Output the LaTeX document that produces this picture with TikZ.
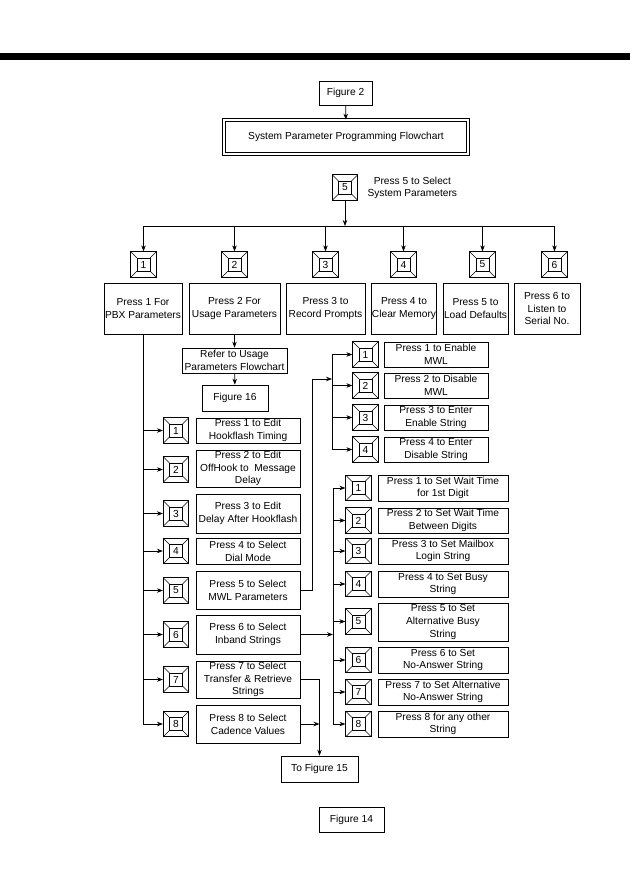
\documentclass[tikz,border=0pt]{standalone}
\usepackage{fontspec}
\setmainfont{Liberation Sans}
\usetikzlibrary{arrows.meta,calc}
\newcommand{\chartfont}{\fontsize{10.2}{12.7}\selectfont}

\begin{document}
\begin{tikzpicture}[x=1pt,y=-1pt,
    every node/.style={font=\chartfont},
    txtbox/.style={draw,line width=0.7pt,align=center,inner sep=0.3pt},
    keybox/.style={draw,line width=0.7pt,minimum size=25.5pt,inner sep=0pt,
      path picture={
        \coordinate (kc) at (path picture bounding box.center);
        \draw[line width=0.6pt] ($(kc)+(-6.5pt,-6.5pt)$) rectangle ($(kc)+(6.5pt,6.5pt)$);
        \draw[line width=0.5pt]
          (path picture bounding box.north west) -- ($(kc)+(-6.5pt,6.5pt)$)
          (path picture bounding box.north east) -- ($(kc)+(6.5pt,6.5pt)$)
          (path picture bounding box.south west) -- ($(kc)+(-6.5pt,-6.5pt)$)
          (path picture bounding box.south east) -- ($(kc)+(6.5pt,-6.5pt)$);}},
    arrow/.style={-{Stealth[length=6pt,width=4.5pt]},line width=0.7pt},
    wire/.style={line width=0.7pt}
  ]
    \useasboundingbox (0,0) rectangle (630,893);
    \fill (0,53) rectangle (630,60);

    % heading
    \node[txtbox,minimum width=53pt,minimum height=24pt] (fig2) at (345.5,93) {Figure 2};
    \node[draw,line width=0.7pt,double,double distance=2.2pt,minimum width=244pt,
      minimum height=34pt] (title) at (346,137) {System Parameter Programming Flowchart};
    \node[keybox] (sel5) at (345,187.5) {5};
    \node[anchor=west,align=center] (seltxt) at (364,188) {Press 5 to Select\\System Parameters};
    \coordinate (bus) at (345,226);

    % first level
    \foreach \i/\x in {1/143.5,2/234.5,3/325.5,4/403.5,5/482.5,6/554.5}
      \node[keybox] (rk\i) at (\x,264.5) {\i};
    \node[txtbox,minimum width=78pt,minimum height=51pt] (rb1) at (143,308.5) {Press 1 For\\PBX Parameters};
    \node[txtbox,minimum width=91pt,minimum height=51pt] (rb2) at (234.5,308.5) {Press 2 For\\Usage Parameters};
    \node[txtbox,minimum width=79pt,minimum height=51pt] (rb3) at (325.5,308.5) {Press 3 to\\Record Prompts};
    \node[txtbox,minimum width=64pt,minimum height=51pt] (rb4) at (404,308.5) {Press 4 to\\Clear Memory};
    \node[txtbox,minimum width=65pt,minimum height=51pt] (rb5) at (475.5,308.5) {Press 5 to\\Load Defaults};
    \node[txtbox,minimum width=66pt,minimum height=51pt] (rb6) at (547,308.5) {Press 6 to\\Listen to\\Serial No.};

    \node[txtbox,minimum width=105pt,minimum height=25pt] (refer) at (234.5,360.5) {Refer to Usage\\Parameters Flowchart};
    \node[txtbox,minimum width=66pt,minimum height=26pt] (fig16) at (235,398) {Figure 16};

    % PBX parameters
    \foreach \i/\y in {1/430.5,2/469.5,3/513.5,4/551,5/590.5,6/634.5,7/679.5,8/724}
      \node[keybox] (lk\i) at (176,\y) {\i};
    \node[txtbox,minimum width=104pt,minimum height=25pt] (lt1) at (248,430.5) {Press 1 to Edit\\Hookflash Timing};
    \node[txtbox,minimum width=104pt,minimum height=37pt] (lt2) at (248,468.5) {Press 2 to Edit\\OffHook to\ \ Message\\Delay};
    \node[txtbox,minimum width=104pt,minimum height=39pt] (lt3) at (248,513.5) {Press 3 to Edit\\Delay After Hookflash};
    \node[txtbox,minimum width=104pt,minimum height=26pt] (lt4) at (248,551) {Press 4 to Select\\Dial Mode};
    \node[txtbox,minimum width=104pt,minimum height=38pt] (lt5) at (248,590) {Press 5 to Select\\MWL Parameters};
    \node[txtbox,minimum width=104pt,minimum height=39pt] (lt6) at (248,634.5) {Press 6 to Select\\Inband Strings};
    \node[txtbox,minimum width=104pt,minimum height=37pt] (lt7) at (248,679.5) {Press 7 to Select\\Transfer \& Retrieve\\Strings};
    \node[txtbox,minimum width=104pt,minimum height=38pt] (lt8) at (248,724) {Press 8 to Select\\Cadence Values};
    \node[txtbox,minimum width=77pt,minimum height=26pt] (fig15) at (319.5,769) {To Figure 15};

    % MWL parameters
    \coordinate (mwlbus) at (332,379);
    \foreach \i/\y in {1/354.5,2/385.5,3/417.5,4/449.5}
      \node[keybox] (mk\i) at (365.5,\y) {\i};
    \node[txtbox,minimum width=104pt,minimum height=25pt] (mt1) at (436,354.5) {Press 1 to Enable\\MWL};
    \node[txtbox,minimum width=104pt,minimum height=25pt] (mt2) at (436,385.5) {Press 2 to Disable\\MWL};
    \node[txtbox,minimum width=104pt,minimum height=25pt] (mt3) at (436,417.5) {Press 3 to Enter\\Enable String};
    \node[txtbox,minimum width=104pt,minimum height=25pt] (mt4) at (436,449.5) {Press 4 to Enter\\Disable String};

    % inband strings
    \coordinate (strbus) at (333,634.5);
    \foreach \i/\y in {1/488,2/520.5,3/551,4/584,5/621.5,6/660,7/692,8/724}
      \node[keybox] (sk\i) at (358.5,\y) {\i};
    \node[txtbox,minimum width=130pt,minimum height=26pt] (st1) at (443,488) {Press 1 to Set Wait Time\\for 1st Digit};
    \node[txtbox,minimum width=130pt,minimum height=25pt] (st2) at (443,520.5) {Press 2 to Set Wait Time\\Between Digits};
    \node[txtbox,minimum width=130pt,minimum height=26pt] (st3) at (443,551) {Press 3 to Set Mailbox\\Login String};
    \node[txtbox,minimum width=130pt,minimum height=26pt] (st4) at (443,584) {Press 4 to Set Busy\\String};
    \node[txtbox,minimum width=130pt,minimum height=38pt] (st5) at (443,622) {Press 5 to Set\\Alternative Busy\\String};
    \node[txtbox,minimum width=130pt,minimum height=26pt] (st6) at (443,660) {Press 6 to Set\\No-Answer String};
    \node[txtbox,minimum width=130pt,minimum height=26pt] (st7) at (443,692) {Press 7 to Set Alternative\\No-Answer String};
    \node[txtbox,minimum width=130pt,minimum height=26pt] (st8) at (443,724) {Press 8 for any other\\String};

    \node[txtbox,minimum width=65pt,minimum height=25pt] (fig14) at (351.5,819.5) {Figure 14};

    % connectors
    \draw[arrow] (fig2) -- (title);
    \draw[arrow] (sel5) -- (bus);
    \foreach \i in {1,...,6}
      \draw[arrow] (bus) -| (rk\i);
    \draw[arrow] (rb2) -- (refer);
    \draw[arrow] (refer) -- (fig16);

    \draw[wire] (rb1.south) -- (rb1.south |- lk8);
    \foreach \i in {1,...,8}
      \draw[arrow] (rb1.south |- lk\i) -- (lk\i);

    \draw[arrow] (lt5.east) -- ++(12,0) |- (mwlbus);
    \draw[wire] (mwlbus |- mk1) -- (mwlbus |- mk4);
    \foreach \i in {1,...,4}
      \draw[arrow] (mwlbus |- mk\i) -- (mk\i);

    \draw[arrow] (lt6.east) -- (strbus);
    \draw[wire] (strbus |- sk1) -- (strbus |- sk8);
    \foreach \i in {1,...,8}
      \draw[arrow] (strbus |- sk\i) -- (sk\i);

    \draw[arrow] (lt7.east) -| (fig15);
    \draw[arrow] (lt8.east) -- (lt8.east -| fig15);
\end{tikzpicture}
\end{document}
